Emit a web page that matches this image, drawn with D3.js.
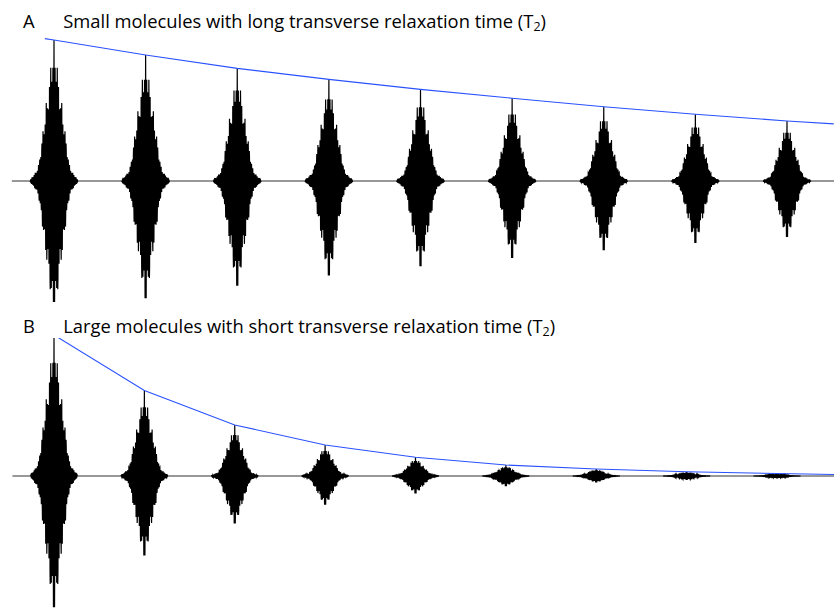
<!DOCTYPE html>
<html>
<head>
<meta charset="utf-8">
<script src="https://cdn.jsdelivr.net/npm/d3@7"></script>
<style>
  html, body { margin: 0; padding: 0; background: #fff; }
  svg { display: block; }
</style>
</head>
<body>
<svg id="chart" width="834" height="614"></svg>
<script>
// ---------- data ----------
const titleA = "Small molecules with long transverse relaxation time (T";
const titleB = "Large molecules with short transverse relaxation time (T";
const panelLabels = ["A", "B"];

// echo number (in units of the echo spacing)
const echoTimes = [1, 2, 3, 4, 5, 6, 7, 8, 9];
// relative echo peak amplitudes (first echo = 1)
const echoAmpA = [1.00, 0.894, 0.799, 0.721, 0.650, 0.587, 0.527, 0.473, 0.426];
const echoAmpB = [1.00, 0.606, 0.362, 0.220, 0.133, 0.078, 0.050, 0.030, 0.018];

// T2 envelope (blue) : times and relative amplitudes
const envTimesA = [0.90, 1, 2, 3, 4, 5, 6, 7, 8, 9, 9.51];
const envAmpA   = [1.01, 1.00, 0.894, 0.799, 0.721, 0.650, 0.587, 0.527, 0.473, 0.426, 0.405];
const envTimesB = [1, 2, 3, 4, 5, 6, 7, 8, 9, 9.64];
const envAmpB   = [1.00, 0.606, 0.362, 0.220, 0.133, 0.078, 0.050, 0.030, 0.018, 0.010];

// shape of a single echo: offset from echo centre (echo-spacing units) -> relative amplitude
const echoShapeOffset = [0, 0.022, 0.060, 0.098, 0.136, 0.153, 0.175, 0.207, 0.240, 0.262];
const echoShapeAmp    = [1, 0.93, 0.74, 0.47, 0.28, 0.19, 0.10, 0.055, 0.028, 0];

// baseline time range
const baseTimes = [0.54, 9.64];

// ---------- drawing ----------
const svg = d3.select("#chart");
const fontFamily = "'Open Sans', 'Noto Sans', sans-serif";

const panels = [
  { label: panelLabels[0], title: titleA, amps: echoAmpA, envT: envTimesA, envA: envAmpA,
    x: d3.scaleLinear().domain([1, 9]).range([54, 787]),
    y: d3.scaleLinear().domain([-1, 1]).range([322, 40]),
    clip: [0, 302], titleY: 27.7 },
  { label: panelLabels[1], title: titleB, amps: echoAmpB, envT: envTimesB, envA: envAmpB,
    x: d3.scaleLinear().domain([1, 9]).range([54, 777]),
    y: d3.scaleLinear().domain([-1, 1]).range([617, 335]),
    clip: [338, 614], titleY: 332.7 }
];

const shape = d3.scaleLinear().domain(echoShapeOffset).range(echoShapeAmp).clamp(true);

// titles
let fontSize = 16;
panels.forEach((p, i) => {
  svg.append("text").attr("x", 23).attr("y", p.titleY)
    .attr("font-family", fontFamily).attr("font-size", fontSize).attr("fill", "#000")
    .attr("class", "lbl").text(p.label);
  const t = svg.append("text").attr("x", 63.3).attr("y", p.titleY)
    .attr("font-family", fontFamily).attr("font-size", fontSize).attr("fill", "#000")
    .attr("class", "ttl");
  t.append("tspan").attr("class", "main").text(p.title);
  t.append("tspan").attr("class", "sub").attr("dy", 3.5).attr("font-size", fontSize * 0.68).text("2");
  t.append("tspan").attr("class", "close").attr("dy", -3.5).text(")");
});
// fit title width to the reference (~483 px)
const w0 = svg.select(".ttl").node().getComputedTextLength();
fontSize = fontSize * 483 / w0;
svg.selectAll(".ttl, .lbl").attr("font-size", fontSize);
svg.selectAll(".ttl .sub").attr("font-size", fontSize * 0.68);

panels.forEach((p, i) => {
  const clipId = "clip" + i;
  svg.append("clipPath").attr("id", clipId)
    .append("rect").attr("x", 0).attr("y", p.clip[0]).attr("width", 834).attr("height", p.clip[1] - p.clip[0]);
  const g = svg.append("g").attr("clip-path", `url(#${clipId})`);

  // baseline
  g.append("line")
    .attr("x1", p.x(baseTimes[0])).attr("x2", p.x(baseTimes[1]))
    .attr("y1", p.y(0)).attr("y2", p.y(0))
    .attr("stroke", "#333").attr("stroke-width", 1.1);

  // echoes
  const pxPerUnit = p.x(2) - p.x(1);
  const period1 = 1.1 / pxPerUnit, period2 = 1.55 / pxPerUnit; // in time units
  const step = 0.18 / pxPerUnit;
  const maxOff = echoShapeOffset[echoShapeOffset.length - 1];
  const nSteps = Math.floor(maxOff / step);
  const offsets = d3.range(-nSteps, nSteps + 1).map(n => n * step); // symmetric, includes centre
  const line = d3.line().x(d => p.x(d[0])).y(d => p.y(d[1]));
  echoTimes.forEach((t0, k) => {
    const pts = offsets.map(d => {
      const env = p.amps[k] * shape(Math.abs(d));
      const carrier = 0.88 * Math.cos(2 * Math.PI * d / period1) + 0.12 * Math.cos(2 * Math.PI * d / period2);
      return [t0 + d, env * carrier];
    });
    g.append("path").attr("d", line(pts))
      .attr("fill", "none").attr("stroke", "#000").attr("stroke-width", 1.2);
  });

  // T2 envelope
  const envLine = d3.line().x(d => p.x(d[0])).y(d => p.y(d[1]));
  g.append("path").attr("d", envLine(p.envT.map((t, j) => [t, p.envA[j]])))
    .attr("fill", "none").attr("stroke", "#2a52ff").attr("stroke-width", 1.1);
});
</script>
</body>
</html>
